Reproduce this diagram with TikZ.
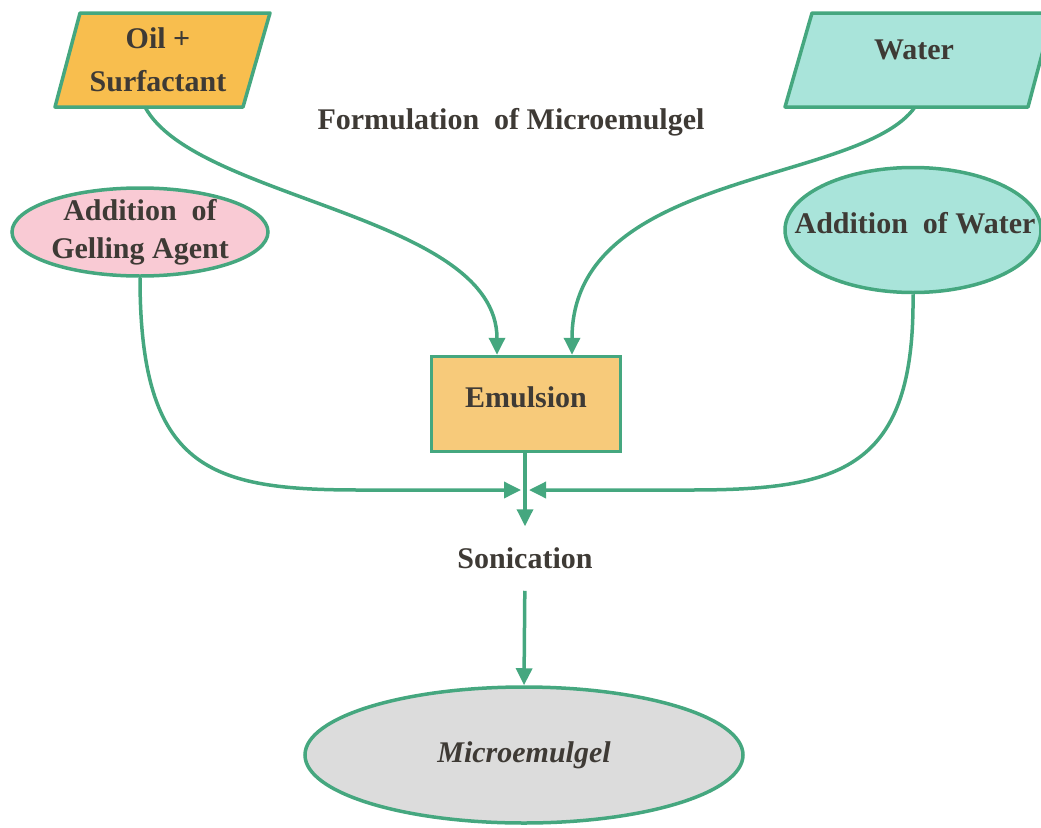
\documentclass[tikz,border=0pt]{standalone}
\usepackage{fontspec}
\setmainfont{Liberation Serif}
\usepackage{tikz}
\usetikzlibrary{arrows.meta,shapes.geometric}

\definecolor{lineteal}{HTML}{45A77F}
\definecolor{txtgray}{HTML}{3E3A35}
\definecolor{oilorange}{HTML}{F8BE4E}
\definecolor{emulorange}{HTML}{F7CA7A}
\definecolor{waterteal}{HTML}{A9E4DA}
\definecolor{gelpink}{HTML}{F9CAD4}
\definecolor{microgray}{HTML}{DCDCDC}

\begin{document}
\begin{tikzpicture}[
  x=1pt, y=-1pt,
  font=\fontsize{30}{38}\selectfont\bfseries,
  text=txtgray,
  flow/.style={draw=lineteal, line width=3.5pt, -{Triangle[length=17pt,width=16pt]}},
  para/.style={draw=lineteal, line width=3.5pt, line join=round},
  oval/.style={ellipse, draw=lineteal, line width=3.5pt, inner sep=0pt},
  box/.style={draw=lineteal, line width=3.5pt, minimum width=189pt,
    minimum height=95pt, inner sep=0pt},
  txt/.style={align=center, inner sep=0pt}
]
\useasboundingbox (0,0) rectangle (1041,827);

% inputs
\draw[para, fill=oilorange] (80,13) -- (270,13) -- (243,107) -- (55,107) -- cycle;
\node[txt, font=\fontsize{30}{43}\selectfont\bfseries] (oil) at (158,60) {Oil +\\Surfactant};
\coordinate (oilout) at (145,107);

\draw[para, fill=waterteal] (812,13) -- (1053,13) -- (1028,107) -- (785,107) -- cycle;
\node[txt] (water) at (914,50) {Water};
\coordinate (waterout) at (915,107);

\node[txt] (title) at (511,122) {Formulation\ \ of Microemulgel};

% additions
\node[oval, fill=gelpink, minimum width=256pt, minimum height=88pt] (gel) at (140,232) {};
\node[txt] at (gel) {Addition\ \ of\\Gelling Agent};

\node[oval, fill=waterteal, minimum width=256pt, minimum height=125pt] (addwater) at (913,230) {};
\node[txt] at (915,223) {Addition\ \ of Water};

% process
\node[box, fill=emulorange] (emulsion) at (526,404) {};
\node[txt] at (526,397) {Emulsion};
\coordinate (merge) at (525,490);

\node[txt] (sonic) at (525,558) {Sonication};

\node[oval, fill=microgray, minimum width=438pt, minimum height=136pt] (micro) at (524,755)
  {\itshape Microemulgel};

\draw[flow] (oilout) .. controls (195,200) and (497,215) .. ([xshift=-29pt]emulsion.north);
\draw[flow] (waterout) .. controls (860,185) and (572,170) .. ([xshift=46pt]emulsion.north);
\draw[flow] (gel.south) .. controls (140,470) and (210,490) .. (360,490) -- ([xshift=-4pt]merge);
\draw[flow] (addwater.south) .. controls (915,470) and (840,490) .. (690,490) -- ([xshift=4pt]merge);
\draw[flow, shorten >=21pt] (emulsion.south -| merge) -- (sonic.north);
\draw[flow, shorten <=22pt] (sonic.south) -- (micro.north);
\end{tikzpicture}
\end{document}
